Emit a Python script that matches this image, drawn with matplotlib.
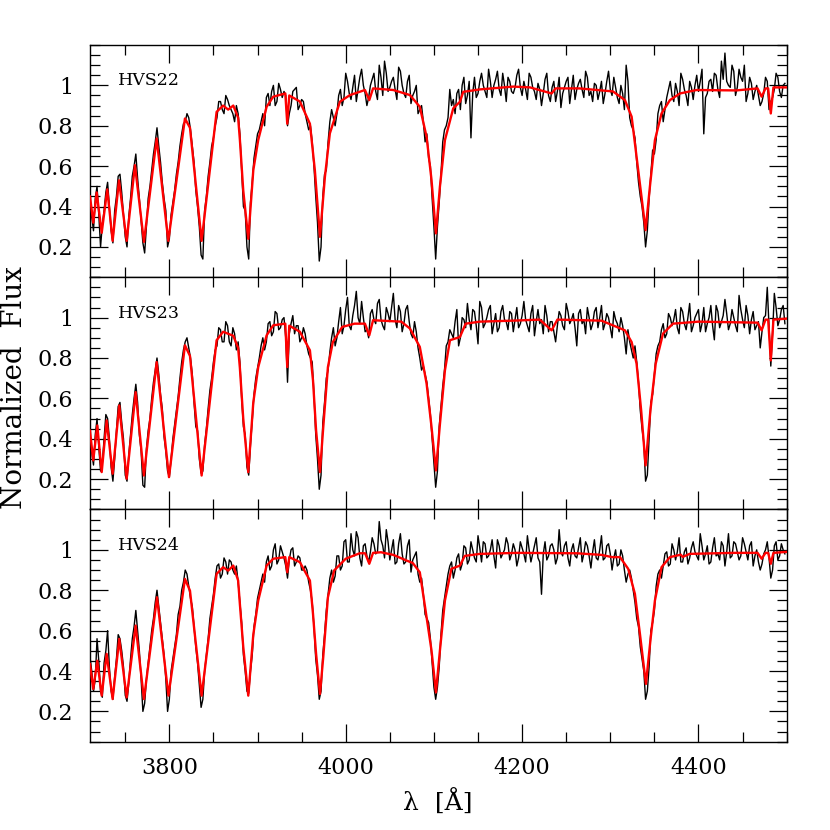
import numpy as np
import matplotlib
matplotlib.use("Agg")
import matplotlib.pyplot as plt
from matplotlib.ticker import MultipleLocator, FixedLocator, FuncFormatter

plt.rcParams['font.family'] = ['DejaVu Serif']
plt.rcParams['mathtext.fontset'] = 'dejavuserif'

# ---------------- data ----------------
star_names = ["HVS22", "HVS23", "HVS24"]

# observed spectra are sampled every 2 A; "_a" holds 3710, 3714, ... and "_b" holds 3712, 3716, ...
wave_a = np.arange(3710, 4500, 4)
wave_b = np.arange(3712, 4500, 4)

flux22_a = [
    .40, .28, .50, .20, .38, .52, .28, .38, .55, .47,
    .25, .35, .55, .66, .44, .22, .30, .50, .66, .79,
    .62, .44, .20, .36, .48, .62, .76, .82, .84, .70,
    .48, .30, .14, .45, .62, .74, .84, .92, .86, .93,
    .88, .82, .86, .58, .38, .14, .52, .70, .78, .86,
    .94, .90, 1.00, .92, .98, .97, .80, .90, .98, .88,
    .93, .86, .78, .72, .45, .13, .45, .58, .82, .84,
    .86, .98, .94, 1.02, .93, 1.05, .98, 1.08, .96, .94,
    1.03, .97, 1.10, .95, 1.06, .99, 1.04, .93, 1.07, .96,
    1.02, .91, .97, .86, .90, .72, .64, .44, .14, .42,
    .72, .80, .98, .93, .96, .88, 1.04, .95, .74, 1.04,
    .96, 1.06, .97, 1.08, .94, 1.03, .98, 1.06, .92, 1.02,
    .96, 1.05, .99, 1.02, .93, 1.04, .97, 1.01, .90, 1.03,
    .95, .99, .92, 1.04, .96, 1.02, .91, 1.05, .98, 1.03,
    .94, 1.04, .97, 1.01, .93, 1.02, .96, 1.07, .95, .99,
    .91, .96, 1.10, .84, .78, .62, .45, .32, .28, .56,
    .66, .86, .92, .88, .98, .95, 1.01, .90, 1.03, .95,
    1.02, .93, 1.05, 1.02, .76, .96, 1.03, 1.06, .98, 1.12,
    1.16, 1.00, 1.10, .95, 1.08, 1.02, .92, 1.04, .93, 1.00,
    .90, .96, 1.02, .92, .98, 1.04, .94, 1.01,
]
flux22_b = [
    .35, .44, .36, .31, .47, .40, .22, .45, .56, .36,
    .20, .44, .60, .54, .33, .17, .44, .58, .72, .70,
    .52, .38, .24, .42, .56, .70, .81, .86, .78, .62,
    .40, .16, .38, .55, .70, .80, .92, .88, .95, .90,
    .86, .90, .76, .40, .20, .42, .64, .76, .82, .80,
    .96, .97, .90, 1.01, .94, .95, .86, .97, .99, .90,
    .92, .82, .80, .60, .32, .20, .56, .72, .88, .80,
    .95, .90, 1.06, .96, .99, .92, 1.04, 1.00, .90, 1.00,
    1.06, .93, 1.04, 1.12, .97, 1.02, .98, 1.09, 1.00, .94,
    1.05, .95, 1.00, .88, .82, .76, .60, .30, .30, .56,
    .78, .84, .90, .86, .98, 1.00, .91, 1.02, .96, .94,
    1.02, 1.00, .94, 1.02, 1.00, 1.07, .95, 1.00, 1.04, .97,
    .99, 1.08, .95, .98, 1.06, .99, .93, .98, .96, 1.06,
    .92, 1.02, .97, .89, .99, 1.04, .98, .93, 1.01, .98,
    1.07, .95, .92, 1.00, .97, .91, 1.02, .98, 1.04, .94,
    1.00, .88, 1.02, .80, .74, .52, .40, .20, .44, .68,
    .73, .90, .82, .94, 1.02, .92, .97, 1.06, .98, .90,
    .99, 1.00, .97, 1.08, .94, 1.02, .97, 1.05, .94, 1.03,
    1.02, .99, 1.07, .99, 1.04, 1.10, .96, 1.01, .97, .95,
    .92, 1.04, .88, .94, 1.06, .97, 1.00,
]

flux23_a = [
    .38, .27, .50, .24, .40, .50, .26, .30, .56, .48,
    .22, .32, .52, .67, .42, .17, .35, .50, .68, .80,
    .62, .41, .24, .30, .47, .61, .78, .88, .85, .72,
    .46, .30, .24, .45, .64, .78, .86, .94, .88, .96,
    .86, .92, .88, .60, .42, .22, .49, .70, .80, .90,
    .88, .98, .93, 1.02, .95, 1.00, .68, .97, .92, .96,
    .90, .92, .82, .78, .42, .15, .48, .70, .83, .95,
    .90, 1.05, .96, 1.10, .94, 1.06, 1.00, 1.08, .93, .90,
    1.04, .97, 1.09, .96, 1.05, .98, 1.12, .95, 1.03, .97,
    1.06, .92, .98, .85, .74, .72, .60, .40, .16, .46,
    .66, .86, .94, .90, 1.04, .90, .99, 1.07, .94, 1.03,
    .87, 1.05, .97, 1.04, .92, 1.02, .95, 1.06, .98, 1.03,
    .93, 1.05, .97, 1.08, .96, 1.02, .91, 1.04, .99, 1.06,
    .93, .98, .88, 1.03, .96, 1.07, .97, 1.02, .86, 1.04,
    .99, 1.05, .94, 1.03, .95, 1.06, .97, 1.00, .90, .99,
    .93, .96, .82, .88, .80, .78, .54, .38, .22, .58,
    .72, .86, .94, .90, 1.02, .96, 1.04, .92, 1.03, .94,
    1.07, .96, 1.02, .93, 1.05, .97, 1.06, .89, 1.03, .98,
    1.09, .94, 1.04, .96, 1.11, .99, 1.06, .92, 1.03, .96,
    .85, 1.00, 1.15, .76, 1.12, .96, 1.04, .97,
]
flux23_b = [
    .33, .42, .36, .28, .52, .40, .19, .44, .58, .40,
    .19, .42, .60, .58, .34, .16, .44, .60, .74, .72,
    .55, .34, .21, .40, .54, .70, .84, .90, .80, .58,
    .44, .23, .37, .55, .70, .84, .95, .88, .98, .88,
    .95, .84, .78, .46, .26, .37, .62, .75, .86, .84,
    .97, .91, 1.03, .94, .99, .90, .92, 1.01, .96, .88,
    .95, .86, .80, .62, .30, .22, .58, .74, .90, .86,
    .98, .92, 1.04, .96, 1.01, 1.13, .97, 1.00, .94, 1.02,
    .99, 1.07, .99, .94, 1.02, 1.05, .99, 1.06, .93, 1.04,
    .98, .90, .93, .80, .76, .68, .52, .28, .24, .56,
    .74, .88, .92, .98, .86, 1.00, .95, .99, 1.04, .96,
    1.08, .95, 1.00, 1.06, .97, .93, 1.03, .99, .94, 1.02,
    .99, .95, 1.01, .99, .93, 1.06, .98, .97, .92, 1.01,
    .98, .93, .96, 1.01, .94, 1.03, .99, .95, 1.02, .97,
    .92, 1.00, .97, 1.05, 1.00, .94, 1.02, .95, 1.03, .97,
    1.00, .90, .94, .84, .86, .68, .45, .19, .40, .62,
    .82, .88, .97, .92, 1.00, .99, .95, 1.05, .97, 1.00,
    .93, 1.00, 1.04, .97, .93, 1.00, .96, 1.06, .95, 1.01,
    1.02, .97, 1.00, .93, 1.04, .95, 1.01, .99, .94, .98,
    .93, 1.01, .96, .92, 1.05, .99, 1.06,
]

flux24_a = [
    .47, .30, .56, .30, .44, .60, .30, .37, .58, .50,
    .28, .34, .56, .70, .50, .20, .36, .52, .66, .80,
    .64, .48, .20, .40, .52, .68, .80, .90, .82, .72,
    .52, .33, .26, .48, .66, .78, .92, .86, .96, .88,
    .94, .88, .84, .64, .40, .29, .48, .68, .80, .88,
    .94, .90, 1.00, .93, 1.02, .96, .86, 1.00, .92, .97,
    .90, .92, .84, .74, .46, .26, .48, .70, .86, .84,
    .97, .90, 1.04, .94, 1.08, .97, 1.06, .92, 1.03, .94,
    1.06, .98, 1.14, 1.02, 1.10, .95, 1.05, .94, 1.08, .93,
    1.02, .89, .97, .88, .86, .68, .64, .44, .26, .42,
    .70, .82, .92, .86, .96, .90, 1.02, .93, 1.04, .96,
    1.07, .94, 1.03, .97, 1.05, .91, 1.02, .98, 1.06, .95,
    1.03, .92, 1.04, .98, 1.07, .94, 1.02, .96, .78, 1.04,
    .97, 1.03, .93, 1.10, .97, 1.04, .92, 1.03, .96, 1.06,
    .98, 1.02, .91, 1.05, .95, 1.07, .96, 1.03, .90, 1.00,
    .93, .97, .84, .90, .80, .66, .52, .40, .30, .60,
    .70, .88, .86, .98, .92, 1.03, .95, 1.06, .94, 1.01,
    .96, 1.04, .97, 1.08, .95, 1.02, .94, 1.06, .98, 1.04,
    .92, 1.08, .97, 1.03, .95, 1.06, .99, 1.02, .92, 1.00,
    .90, .98, 1.04, .86, 1.02, .95, 1.03, .98,
]
flux24_b = [
    .40, .36, .45, .27, .50, .42, .26, .46, .56, .42,
    .25, .46, .62, .60, .36, .24, .44, .60, .74, .72,
    .56, .36, .26, .46, .58, .72, .84, .88, .76, .62,
    .44, .22, .40, .56, .72, .86, .93, .88, .94, .95,
    .90, .92, .74, .48, .30, .40, .62, .76, .84, .84,
    .97, .92, 1.03, .95, .99, .92, .95, 1.01, .94, .96,
    .90, .90, .80, .62, .38, .30, .58, .78, .90, .87,
    .97, .92, 1.05, .94, 1.00, 1.09, .96, 1.02, .97, .99,
    1.03, .99, 1.05, .96, 1.04, 1.00, .93, 1.03, .98, .94,
    1.05, .95, .99, .84, .78, .66, .56, .32, .32, .58,
    .76, .88, .94, .90, .98, .93, 1.01, .95, 1.00, .94,
    1.01, 1.04, .96, 1.00, .97, 1.05, .96, 1.00, 1.03, .98,
    1.00, .96, 1.01, .94, 1.00, .98, 1.06, .94, .98, .95,
    1.02, 1.00, .96, .99, 1.02, .96, 1.00, .97, 1.01, .94,
    1.04, .97, .99, .96, 1.00, .95, 1.02, .98, .96, .92,
    1.00, .90, .88, .86, .74, .62, .46, .26, .42, .64,
    .82, .90, .92, .99, .93, 1.00, .99, .94, .99, .93,
    1.01, .99, .95, 1.02, .98, .93, 1.01, .97, .95, 1.02,
    .99, .96, 1.04, .99, .97, 1.03, .95, 1.04, .97, .94,
    .93, 1.00, .96, .90, 1.04, .97, 1.00,
]

# model (red) spectra: wavelengths and normalized flux
model22_wave = [3710, 3713.8, 3717.6, 3723.3, 3729.6, 3735.7, 3742.9, 3751.6, 3761, 3771.2,
                3785.6, 3798.8, 3817.7, 3823.4, 3836.6, 3853.6, 3861, 3866.7, 3872.5, 3878,
                3880, 3883.8, 3889.5, 3895.2, 3900.8, 3910.3, 3917.8, 3931.5, 3933.7, 3936,
                3948, 3959.4, 3965, 3970.8, 3976.4, 3982, 3993.4, 4004.8, 4021.8, 4026.7,
                4031, 4054, 4072.8, 4084, 4091.7, 4097.3, 4102.3, 4106.8, 4112.5, 4121.9,
                4129.5, 4133.3, 4152, 4190, 4209, 4233.5, 4238, 4265, 4303, 4316.6,
                4324.2, 4329.8, 4335.4, 4340, 4344.9, 4350.6, 4358.1, 4367.6, 4379, 4397.8,
                4443, 4467, 4471.6, 4476, 4479, 4482, 4485, 4500]
model22_flux = [.45, .32, .47, .27, .485, .23, .53, .23, .605, .225,
                .737, .23, .836, .79, .23, .869, .90, .88, .90, .84,
                .73, .48, .24, .58, .73, .894, .944, .96, .81, .95,
                .92, .81, .58, .25, .547, .762, .919, .952, .977, .927,
                .985, .977, .952, .894, .745, .531, .267, .498, .729, .886,
                .919, .968, .98, .994, .99, .96, .985, .985, .97, .927,
                .845, .646, .448, .283, .498, .729, .861, .927, .96, .977,
                .975, .985, .944, .985, .985, .861, .99, .99]

model23_wave = [3710, 3713.7, 3718.3, 3723.3, 3728.9, 3735.7, 3743.2, 3751.6, 3761.8, 3771.2,
                3785.6, 3799.6, 3817.7, 3823.4, 3836.6, 3853.6, 3861, 3866.7, 3872.5, 3878,
                3880, 3883.8, 3889.5, 3895.2, 3900.8, 3910.3, 3917.8, 3931.5, 3933.7, 3936,
                3948, 3959.4, 3962.9, 3966.4, 3970.8, 3974.5, 3979.8, 3985.4, 3996, 4010,
                4021.8, 4026.7, 4031, 4063, 4072.8, 4084, 4091.7, 4097.3, 4102.3, 4106.8,
                4112.5, 4118.2, 4129.5, 4136, 4152, 4190, 4220, 4233.5, 4240, 4290,
                4316.6, 4324.2, 4329.8, 4335, 4340, 4345.5, 4351.5, 4359.8, 4371, 4400,
                4467, 4471.6, 4476, 4479, 4482, 4485, 4500]
model23_flux = [.44, .293, .466, .235, .491, .227, .565, .202, .631, .218,
                .78, .21, .863, .81, .218, .888, .93, .92, .91, .85,
                .75, .50, .235, .58, .755, .912, .962, .97, .755, .96,
                .93, .838, .689, .441, .235, .456, .755, .879, .954, .97,
                .97, .912, .987, .98, .946, .855, .673, .458, .243, .471,
                .739, .888, .904, .97, .98, .985, .99, .937, .99, .985,
                .937, .879, .772, .541, .268, .541, .772, .921, .97, .98,
                .975, .937, .99, .99, .788, .99, .995]

model24_wave = [3710, 3713.7, 3718.3, 3723.3, 3728.9, 3735.7, 3743.2, 3751.6, 3761.8, 3771.2,
                3786, 3799, 3817.7, 3823.4, 3836.6, 3853.6, 3861, 3866.7, 3872.5, 3878,
                3880, 3883.8, 3889.5, 3895.2, 3900.8, 3910.3, 3917.8, 3931.5, 3933.7, 3936,
                3948, 3959.4, 3962.9, 3966.4, 3970.8, 3974.5, 3979.8, 3986.9, 4000, 4015.8,
                4022, 4026.7, 4031, 4040, 4054, 4069, 4076, 4084, 4090, 4097.3,
                4102.3, 4106.8, 4112.5, 4119.8, 4129.5, 4135, 4152, 4195, 4262, 4290,
                4302, 4311, 4320.3, 4327.9, 4333.6, 4340.4, 4345.7, 4350.6, 4358.1, 4367.6,
                4380, 4382, 4390, 4440, 4467, 4471.6, 4476, 4479, 4482, 4485, 4500]
model24_flux = [.435, .311, .451, .278, .485, .261, .559, .269, .625, .261,
                .765, .278, .856, .798, .278, .881, .914, .897, .922, .848,
                .73, .52, .278, .58, .749, .922, .956, .964, .889, .964,
                .939, .848, .683, .485, .286, .468, .765, .898, .956, .983,
                .983, .931, .985, .988, .975, .947, .935, .889, .716, .501,
                .294, .501, .749, .906, .922, .97, .98, .985, .983, .975,
                .964, .964, .906, .782, .584, .336, .56, .749, .914, .964,
                .976, .965, .98, .985, .985, .956, .985, .985, .931, .985, .99]

obs_a = [flux22_a, flux23_a, flux24_a]
obs_b = [flux22_b, flux23_b, flux24_b]
models = [(model22_wave, model22_flux), (model23_wave, model23_flux), (model24_wave, model24_flux)]

x_ticks = [3800, 4000, 4200, 4400]
y_ticks = [0.2, 0.4, 0.6, 0.8, 1.0]

# ---------------- figure ----------------
fig = plt.figure(figsize=(8.3, 8.3), dpi=100)
axes = fig.subplots(3, 1, sharex=True, gridspec_kw=dict(hspace=0))
fig.subplots_adjust(left=0.1084, right=0.9478, top=0.9458, bottom=0.1064)

yfmt = FuncFormatter(lambda v, p: "1" if abs(v - 1) < 1e-6 else f"{v:.1f}")

for ax, name, fa, fb, (mw, mf) in zip(axes, star_names, obs_a, obs_b, models):
    w = np.concatenate([wave_a, wave_b])
    f = np.concatenate([np.asarray(fa), np.asarray(fb)])
    order = np.argsort(w)
    ax.plot(w[order], f[order], color="black", lw=1.0, zorder=2)
    ax.plot(mw, mf, color="#ff0000", lw=1.7, zorder=3)
    ax.set_xlim(3710, 4500)
    ax.set_ylim(0.05, 1.2)
    ax.yaxis.set_major_locator(FixedLocator(y_ticks))
    ax.yaxis.set_minor_locator(MultipleLocator(0.05))
    ax.yaxis.set_major_formatter(yfmt)
    ax.set_xticks(x_ticks)
    ax.xaxis.set_minor_locator(MultipleLocator(50))
    ax.tick_params(which="both", direction="in", top=True, right=True, width=0.9)
    ax.tick_params(which="major", length=13, labelsize=16, pad=12)
    ax.tick_params(which="minor", length=7)
    for s in ax.spines.values():
        s.set_linewidth(1.0)
    ax.text(3742, 1.022, name, fontsize=12.5, ha="left", va="center")

axes[-1].tick_params(axis="x", which="major", pad=11)

fig.text(0.017, 1 - 387 / 830, "Normalized  Flux", rotation=90, fontsize=20,
         ha="center", va="center")
fig.text(437.5 / 830, 1 - 803 / 830, "λ  [Å]", fontsize=18, ha="center", va="center")

fig.savefig("out.png", dpi=100)
